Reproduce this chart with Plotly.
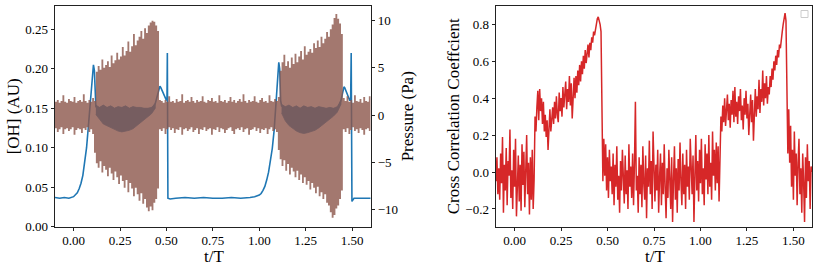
import numpy as np
import plotly.graph_objects as go

# ---------------- data ----------------
# time grid (t/T) for the pressure envelope
t_grid = np.round(np.arange(-0.10, 1.6001, 0.01), 2)
# finer time grid (t/T) for the cross-correlation coefficient
t_cc = np.round(np.arange(-0.100, 1.60001, 0.005), 3)

# pressure envelope (Pa): upper / lower edges of the fast oscillation
p_upper = (
    [1.4, 1.6, 1.3, 1.5, 2.1, 1.4, 1.3, 1.7, 1.5, 1.4, 1.9, 1.3, 1.5, 1.6, 1.4, 2.2, 1.5, 1.3, 1.6, 1.4, 1.8, 1.5]
    + [4.6, 5.2, 4.8, 5.9, 5.0, 5.3, 5.7, 5.1, 6.3, 5.5, 5.8, 6.6, 5.9, 6.2, 7.2, 6.3, 6.8, 7.8, 6.7, 7.3,
       8.6, 7.4, 7.9, 8.3, 8.9, 8.1, 9.2, 8.7, 9.5, 9.8, 10.0, 9.9, 9.5, 8.9, 1.6]
    + [1.5, 1.3, 1.6, 1.4, 2.0, 1.4, 1.5, 1.3, 1.7, 1.4, 1.5, 2.2, 1.3, 1.5, 1.6, 1.4, 1.9, 1.5, 1.3, 1.6,
       1.4, 1.5, 2.0, 1.4, 1.3, 1.6, 1.5, 1.8, 1.4, 1.5, 1.3, 2.1, 1.5, 1.4, 1.6, 1.3, 1.5, 1.9, 1.4, 1.6,
       1.3, 1.5, 1.7, 1.4, 2.2, 1.5, 1.3, 1.6, 1.4, 1.5, 2.0, 1.4, 1.3, 1.6, 1.8, 1.4, 1.5, 1.3, 2.1, 1.5,
       1.4, 1.7, 1.5, 1.9]
    + [4.7, 5.6, 6.4, 5.2, 5.7, 5.0, 6.1, 5.4, 6.5, 5.6, 6.2, 6.8, 5.9, 7.3, 6.4, 6.7, 7.0, 6.6, 7.6, 7.1,
       7.9, 7.2, 8.3, 7.6, 8.1, 8.8, 8.3, 9.1, 9.6, 10.3, 10.7, 10.2, 9.7, 8.6, 1.8]
    + [1.5, 2.0, 1.4, 1.6, 1.3, 2.1, 1.5, 1.4, 1.7, 1.3, 1.9, 1.5, 1.4, 2.0, 1.6]
)
p_lower = (
    [-1.6, -1.4, -1.8, -1.5, -1.3, -2.0, -1.5, -1.4, -1.7, -1.5, -1.3, -2.1, -1.6, -1.4, -1.5, -1.9, -1.4, -1.6, -1.3, -1.8, -1.5, -2.0]
    + [-4.0, -5.1, -5.6, -4.9, -6.1, -5.4, -5.8, -6.5, -5.6, -6.2, -6.9, -6.0, -6.6, -7.3, -6.4, -7.0, -7.7, -6.9, -8.2, -7.2,
       -7.8, -8.6, -7.7, -8.4, -9.1, -8.3, -9.4, -8.9, -9.8, -10.2, -9.7, -10.1, -9.3, -8.9, -7.8]
    + [-1.5, -1.7, -1.4, -2.0, -1.5, -1.3, -1.6, -1.4, -1.9, -1.5, -1.6, -1.3, -2.1, -1.5, -1.4, -1.7, -1.5, -1.3, -1.8, -1.6,
       -1.4, -2.0, -1.5, -1.6, -1.3, -1.7, -1.5, -1.4, -2.1, -1.5, -1.6, -1.3, -1.8, -1.4, -1.5, -1.9, -1.6, -1.4, -1.3, -1.7,
       -2.0, -1.5, -1.4, -1.6, -1.3, -1.8, -1.5, -1.4, -2.1, -1.6, -1.5, -1.3, -1.7, -1.4, -1.9, -1.5, -1.6, -1.4, -2.0, -1.5,
       -1.3, -1.7, -1.5, -1.8]
    + [-3.7, -4.7, -5.4, -4.8, -5.9, -5.2, -6.3, -5.6, -6.0, -6.6, -5.9, -6.9, -6.3, -7.2, -6.6, -7.4, -7.0, -7.9, -7.2, -7.7,
       -8.3, -7.6, -8.6, -8.2, -8.9, -8.4, -9.3, -9.6, -10.3, -10.9, -10.6, -9.9, -9.6, -8.9, -8.0]
    + [-1.5, -1.8, -1.4, -2.0, -1.6, -1.3, -1.7, -1.5, -1.9, -1.4, -1.6, -2.1, -1.5, -1.4, -1.7]
)

# [OH] signal (AU)
oh_t = [-0.10, -0.075, -0.05, -0.025, 0.00, 0.01, 0.02, 0.03, 0.04, 0.05, 0.06, 0.07, 0.08, 0.09, 0.10, 0.107, 0.112, 0.117,
        0.12, 0.14, 0.16, 0.18, 0.20, 0.22, 0.24, 0.26, 0.28, 0.30, 0.32, 0.34, 0.36, 0.38, 0.40, 0.42,
        0.43, 0.44, 0.45, 0.46, 0.465, 0.47, 0.48, 0.49, 0.50, 0.503, 0.505, 0.508, 0.52,
        0.55, 0.60, 0.65, 0.70, 0.75, 0.80, 0.85, 0.90, 0.95, 0.975,
        1.00, 1.01, 1.02, 1.03, 1.04, 1.05, 1.06, 1.07, 1.08, 1.09, 1.10, 1.105, 1.11, 1.115,
        1.12, 1.14, 1.16, 1.18, 1.20, 1.22, 1.24, 1.26, 1.28, 1.30, 1.32, 1.34, 1.36, 1.38, 1.40, 1.42,
        1.43, 1.44, 1.45, 1.456, 1.46, 1.47, 1.48, 1.487, 1.492, 1.495, 1.499, 1.51, 1.55, 1.60]
oh_v = [0.037, 0.036, 0.037, 0.036, 0.038, 0.040, 0.043, 0.048, 0.055, 0.065, 0.080, 0.100, 0.128, 0.160, 0.192, 0.205, 0.198, 0.160,
        0.152, 0.150, 0.153, 0.150, 0.152, 0.149, 0.151, 0.150, 0.152, 0.149, 0.151, 0.150, 0.150, 0.149, 0.149, 0.150,
        0.152, 0.156, 0.164, 0.174, 0.178, 0.176, 0.170, 0.164, 0.160, 0.162, 0.220, 0.036, 0.035,
        0.036, 0.037, 0.036, 0.037, 0.036, 0.036, 0.037, 0.036, 0.037, 0.038,
        0.040, 0.042, 0.046, 0.051, 0.059, 0.069, 0.084, 0.099, 0.122, 0.156, 0.196, 0.208, 0.200, 0.160,
        0.153, 0.151, 0.152, 0.150, 0.151, 0.149, 0.152, 0.150, 0.151, 0.149, 0.151, 0.150, 0.149, 0.150, 0.149, 0.150,
        0.153, 0.160, 0.170, 0.177, 0.176, 0.170, 0.164, 0.160, 0.160, 0.220, 0.032, 0.036, 0.036, 0.036]

# [OH] oscillation band inside the two active windows
band1_t = [0.12, 0.14, 0.16, 0.18, 0.20, 0.22, 0.24, 0.26, 0.28, 0.30, 0.32, 0.34, 0.36, 0.38, 0.40, 0.42, 0.44]
band1_hi = [0.154, 0.151, 0.154, 0.151, 0.153, 0.150, 0.152, 0.151, 0.153, 0.150, 0.152, 0.151, 0.151, 0.150, 0.150, 0.151, 0.156]
band1_lo = [0.142, 0.136, 0.130, 0.127, 0.125, 0.123, 0.121, 0.120, 0.121, 0.122, 0.124, 0.127, 0.131, 0.135, 0.139, 0.143, 0.150]
band2_t = [1.12, 1.14, 1.16, 1.18, 1.20, 1.22, 1.24, 1.26, 1.28, 1.30, 1.32, 1.34, 1.36, 1.38, 1.40, 1.42, 1.44]
band2_hi = [0.155, 0.152, 0.154, 0.151, 0.153, 0.150, 0.153, 0.151, 0.152, 0.150, 0.152, 0.151, 0.150, 0.151, 0.150, 0.152, 0.160]
band2_lo = [0.144, 0.134, 0.128, 0.124, 0.121, 0.119, 0.118, 0.119, 0.120, 0.122, 0.125, 0.128, 0.132, 0.136, 0.140, 0.145, 0.155]

# cross-correlation coefficient (on t_cc)
cc = (
    # -0.100 .. 0.105
    [-0.05, 0.08, -0.12, 0.02, -0.15, 0.10, -0.06, 0.19, -0.22, 0.04, -0.10, 0.13, -0.18, 0.06, -0.02, 0.23, -0.14, 0.01, -0.20, 0.12,
     -0.08, 0.18, -0.24, -0.03, 0.09, -0.16, 0.04, -0.21, 0.15, -0.07, 0.11, -0.19, -0.02, 0.20, -0.12, 0.05, -0.23, 0.08, -0.15, 0.12,
     -0.20, -0.04]
    # 0.110 .. 0.200
    + [0.30, 0.22, 0.35, 0.44, 0.28, 0.45, 0.33, 0.40, 0.26, 0.38, 0.22, 0.31, 0.19, 0.28, 0.12, 0.25, 0.34, 0.22, 0.30]
    # 0.205 .. 0.450
    + [0.35, 0.26, 0.38, 0.29, 0.41, 0.31, 0.27, 0.43, 0.33, 0.40, 0.30, 0.46, 0.35, 0.42, 0.49, 0.34, 0.45, 0.38, 0.52, 0.36,
       0.48, 0.29, 0.44, 0.51, 0.40, 0.52, 0.43, 0.55, 0.47, 0.58, 0.49, 0.60, 0.53, 0.63, 0.56, 0.66, 0.59, 0.64, 0.69, 0.62,
       0.70, 0.66, 0.73, 0.70, 0.76, 0.74, 0.79, 0.80, 0.83, 0.84]
    # 0.455 .. 0.475
    + [0.82, 0.80, 0.76, 0.30, -0.05]
    # 0.480 .. 1.105
    + [0.18, -0.02, 0.15, -0.10, 0.08, -0.14, 0.12, -0.05, 0.03, -0.12,
       0.10, -0.18, 0.04, -0.08, 0.14, -0.15, -0.02, -0.22, 0.06, -0.10,
       0.12, -0.06, -0.17, 0.09, -0.12, 0.01, -0.20, 0.15, -0.08, 0.03,
       -0.14, 0.10, -0.18, 0.05, 0.38, -0.10, -0.02, -0.22, 0.08, -0.12,
       0.04, -0.19, 0.14, -0.06, -0.15, 0.09, -0.25, 0.02, -0.08, 0.17,
       -0.12, 0.06, -0.20, 0.22, -0.05, -0.16, 0.04, -0.10, 0.12, -0.22,
       -0.03, 0.10, -0.18, 0.05, -0.12, 0.15, -0.08, -0.25, 0.02, -0.14,
       0.12, -0.06, -0.20, 0.08, -0.27, -0.04, 0.14, -0.15, 0.02, -0.22,
       0.07, -0.10, 0.16, -0.05, -0.18, 0.10, -0.12, 0.04, -0.20, 0.12,
       -0.08, 0.03, -0.15, 0.18, -0.04, -0.12, 0.09, -0.27, -0.02, 0.20,
       -0.10, 0.06, -0.16, 0.12, -0.06, 0.18, -0.12, 0.02, -0.18, 0.15,
       -0.04, 0.10, -0.12, 0.20, -0.08, 0.05, -0.15, 0.22, -0.02, 0.12,
       -0.10, 0.16, -0.06, 0.14, -0.16, 0.08]
    # 1.110 .. 1.365
    + [0.30, 0.22, 0.36, 0.27, 0.40, 0.25, 0.33, 0.42, 0.28, 0.37,
       0.24, 0.39, 0.31, 0.44, 0.27, 0.46, 0.30, 0.38, 0.26, 0.41,
       0.33, 0.45, 0.28, 0.36, 0.23, 0.40, 0.31, 0.44, 0.29, 0.37,
       0.20, 0.35, 0.42, 0.27, 0.39, 0.17, 0.33, 0.45, 0.30, 0.41,
       0.34, 0.50, 0.32, 0.45, 0.38, 0.55, 0.36, 0.48, 0.40, 0.52,
       0.37, 0.46]
    # 1.370 .. 1.455
    + [0.42, 0.52, 0.46, 0.56, 0.50, 0.60, 0.55, 0.63, 0.58, 0.66, 0.62, 0.69, 0.67, 0.73, 0.76, 0.80, 0.84, 0.86]
    # 1.460 .. 1.470
    + [0.82, 0.45, 0.10]
    # 1.475 .. 1.600
    + [0.34, 0.05, 0.25, -0.08, 0.12, -0.15, 0.22, -0.02, 0.10, -0.18, 0.05, 0.18, -0.12, 0.02, -0.22, 0.10, -0.06, -0.27, 0.08, -0.14,
       0.15, -0.05, 0.06, -0.20, 0.03, 0.00]
)

x_ticks = [0.0, 0.25, 0.5, 0.75, 1.0, 1.25, 1.5]
oh_ticks = [0.0, 0.05, 0.10, 0.15, 0.20, 0.25]
p_ticks = [-10, -5, 0, 5, 10]
cc_ticks = [-0.2, 0.0, 0.2, 0.4, 0.6, 0.8]

assert len(p_upper) == len(t_grid) and len(p_lower) == len(t_grid)
assert len(cc) == len(t_cc), (len(cc), len(t_cc))
assert len(oh_t) == len(oh_v)

# ---------------- figure ----------------
W, H = 818, 272
BLUE = "#1f77b4"
BROWN = "rgba(140,86,75,0.8)"
RED = "#d62728"
FONT = "Liberation Serif"

fig = go.Figure()

# OH band + line (primary axis of left panel)
for bt, bh, bl in [(band1_t, band1_hi, band1_lo), (band2_t, band2_hi, band2_lo)]:
    fig.add_trace(go.Scatter(x=list(bt) + list(bt)[::-1], y=list(bh) + list(bl)[::-1],
                             fill="toself", fillcolor=BLUE, line=dict(width=0.8, color=BLUE),
                             mode="lines", xaxis="x", yaxis="y", showlegend=False, hoverinfo="skip"))
fig.add_trace(go.Scatter(x=oh_t, y=oh_v, mode="lines", line=dict(color=BLUE, width=1.6),
                         xaxis="x", yaxis="y", showlegend=False))

# Pressure envelope (secondary axis of left panel)
tg = list(t_grid)
fig.add_trace(go.Scatter(x=tg + tg[::-1], y=list(p_upper) + list(p_lower)[::-1],
                         fill="toself", fillcolor=BROWN, line=dict(width=0, shape="hv"),
                         mode="lines", xaxis="x", yaxis="y2", showlegend=False))

# Cross-correlation (right panel)
fig.add_trace(go.Scatter(x=list(t_cc), y=cc, mode="lines", line=dict(color=RED, width=1.5),
                         xaxis="x2", yaxis="y3", showlegend=False))

def px_x(p):
    return p / W

def px_y(p):
    return 1 - p / H

top, bot = 6, 226.7
axis_common = dict(showline=True, linecolor="#222", linewidth=0.9, ticks="outside",
                   ticklen=3.5, tickwidth=0.8, tickcolor="#222", showgrid=False, zeroline=False,
                   tickfont=dict(family=FONT, size=13, color="black"), automargin=False)

fig.update_layout(
    width=W, height=H, margin=dict(l=0, r=0, t=0, b=0),
    paper_bgcolor="white", plot_bgcolor="white", showlegend=False,
    xaxis=dict(domain=[px_x(55), px_x(370.7)], range=[-0.1, 1.6], tickvals=x_ticks, tickformat=".2f",
               anchor="y", mirror=True, ticklabelstandoff=-2, **axis_common),
    yaxis=dict(domain=[px_y(bot), px_y(top)], range=[0, 0.2794], tickvals=oh_ticks, tickformat=".2f",
               anchor="x", mirror=False, **axis_common),
    yaxis2=dict(overlaying="y", side="right", range=[-11.84, 11.56], tickvals=p_ticks,
                anchor="x", mirror=False, **axis_common),
    xaxis2=dict(domain=[px_x(496), px_x(812)], range=[-0.1, 1.6], tickvals=x_ticks, tickformat=".2f",
                anchor="y3", mirror=True, ticklabelstandoff=-2, **axis_common),
    yaxis3=dict(domain=[px_y(bot), px_y(top)], range=[-0.296, 0.899], tickvals=cc_ticks, tickformat=".1f",
                anchor="x2", mirror=True, **axis_common),
)

lab_font = dict(family=FONT, size=17, color="black")
ymid = px_y((top + bot) / 2)
annos = [
    dict(text="[OH] (AU)", x=px_x(13), y=ymid, textangle=-90),
    dict(text="Pressure (Pa)", x=px_x(407), y=ymid, textangle=-90),
    dict(text="Cross Correlation Coeffcient", x=px_x(453), y=ymid, textangle=-90),
    dict(text="t/T", x=px_x(214), y=px_y(256), textangle=0),
    dict(text="t/T", x=px_x(655), y=px_y(256), textangle=0),
]
for a in annos:
    fig.add_annotation(xref="paper", yref="paper", showarrow=False, xanchor="center", yanchor="middle",
                       font=lab_font, **a)

# empty legend box (upper right of right panel)
fig.add_shape(type="rect", xref="paper", yref="paper", x0=px_x(801), x1=px_x(808), y0=px_y(17.5), y1=px_y(10.5),
              line=dict(color="#cccccc", width=1), fillcolor="white")

fig.write_html("out.html", config={"displayModeBar": False},
               post_script="document.body.style.margin='0px';document.body.style.overflow='hidden';")
